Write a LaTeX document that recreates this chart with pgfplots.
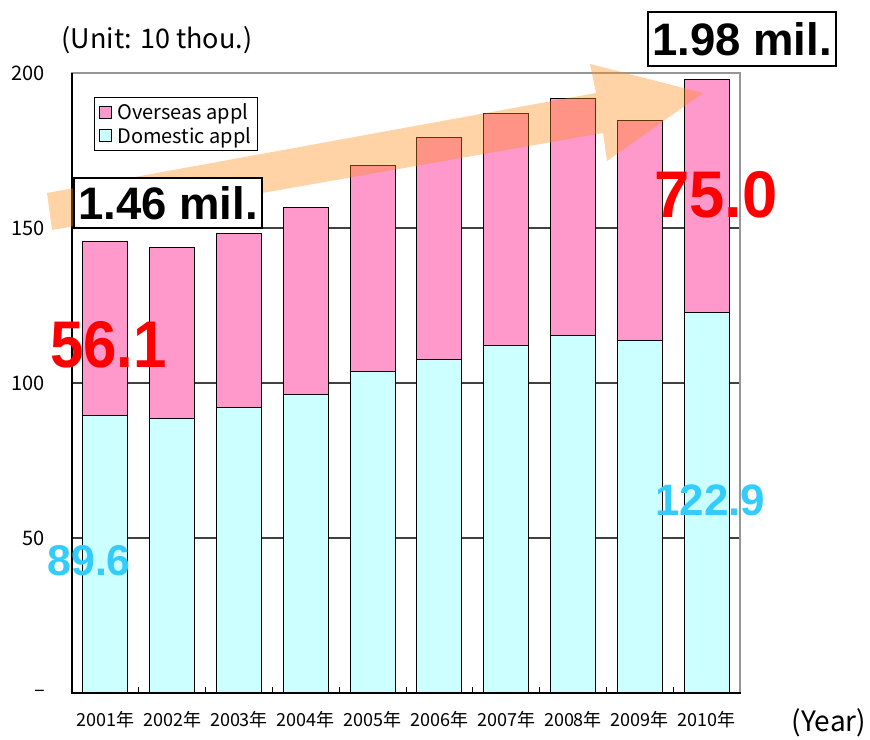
\documentclass[border=0pt]{standalone}
\usepackage{fontspec}
\setmainfont{Liberation Sans}
\newfontfamily\cjk{Noto Sans CJK JP}
\usepackage{graphicx}
\usepackage{pgfplots}
\pgfplotsset{compat=1.18}
\definecolor{pinkbar}{RGB}{255,153,204}
\definecolor{cyanbar}{RGB}{204,255,255}
\definecolor{gridc}{RGB}{64,64,64}
\definecolor{framec}{RGB}{150,150,150}
\definecolor{arrowc}{RGB}{255,140,20}
\definecolor{numblue}{RGB}{51,204,255}
\begin{document}
\begin{tikzpicture}[x=1pt,y=1pt]
\path[use as bounding box] (0,0) rectangle (870,739);
\begin{axis}[
  at={(72pt,46pt)}, anchor=south west,
  width=668pt, height=620pt, scale only axis,
  ybar stacked, bar width=45pt,
  xmin=-0.5, xmax=9.5, ymin=0, ymax=200,
  xtick={0,...,9},
  xticklabels={2001年,2002年,2003年,2004年,2005年,2006年,2007年,2008年,2009年,2010年},
  minor xtick={0.5,1.5,2.5,3.5,4.5,5.5,6.5,7.5,8.5},
  major x tick style={draw=none},
  minor x tick style={black, line width=1pt},
  minor tick length=6pt,
  xtick pos=left, ytick pos=left,
  tick align=inside,
  ytick={0,50,100,150,200}, yticklabels={–,50,100,150,200},
  ytick style={draw=none},
  ymajorgrids, grid style={gridc, line width=1.3pt},
  axis line style={framec, line width=1.2pt},
  /pgf/number format/assume math mode=true,
  yticklabel style={font=\cjk\fontsize{20}{20}\selectfont, anchor=east, inner sep=0pt, xshift=-27pt},
  xticklabel style={font=\cjk\fontsize{18}{18}\selectfont, anchor=north, inner sep=0pt, yshift=-18pt},
  reverse legend,
  legend style={at={(0.033,0.961)}, anchor=north west, draw=black, line width=1pt,
    font=\cjk\fontsize{20}{22}\selectfont, row sep=2pt, inner xsep=4pt, inner ysep=4pt,
    cells={anchor=west}},
  legend image code/.code={\draw[#1,draw=black,line width=0.8pt] (0pt,-6pt) rectangle (12pt,6pt);},
]
\addplot[fill=cyanbar, draw=black, line width=1pt] coordinates {
 (0,89.6) (1,88.5) (2,92.1) (3,96.3) (4,103.7) (5,107.6) (6,112.1) (7,115.3) (8,113.7) (9,122.9)};
\addlegendentry{\hspace{4pt}Domestic appl}
\addplot[fill=pinkbar, draw=black, line width=1pt] coordinates {
 (0,56.1) (1,55.3) (2,56.2) (3,60.4) (4,66.6) (5,71.7) (6,74.7) (7,76.6) (8,71.1) (9,75.0)};
\addlegendentry{\hspace{4pt}Overseas appl}
\end{axis}
% frame
\draw[framec, line width=1.2pt] (72,666) -- (740,666) -- (740,46);
\draw[black, line width=1.5pt] (72,666) -- (72,46);
\draw[black, line width=2pt] (71,46) -- (741,46);
% arrow
\fill[arrowc, opacity=0.38] (47,546) -- (596,646) -- (590,675) -- (703,646) -- (607,578) -- (603,606) -- (52,509) -- cycle;
% boxes
\node[draw=black, line width=1.6pt, fill=white, minimum width=188pt, minimum height=50pt, inner sep=0pt,
  font=\fontsize{45.5}{45.5}\selectfont\bfseries] at (168,536) {1.46 mil.};
\node[draw=black, line width=1.6pt, fill=white, minimum width=188pt, minimum height=54pt, inner sep=0pt,
  font=\fontsize{45.5}{45.5}\selectfont\bfseries] at (742,700) {1.98 mil.};
% numbers
\node[anchor=base west, inner sep=0pt, text=red, font=\fontsize{66}{66}\selectfont\bfseries] at (50,371) {\scalebox{0.91}[1]{56.1}};
\node[anchor=base west, inner sep=0pt, text=red, font=\fontsize{66}{66}\selectfont\bfseries] at (654,521) {\scalebox{0.96}[1]{75.0}};
\node[anchor=base west, inner sep=0pt, text=numblue, font=\fontsize{43}{43}\selectfont\bfseries] at (47,163) {89.6};
\node[anchor=base west, inner sep=0pt, text=numblue, font=\fontsize{44}{44}\selectfont\bfseries] at (655,223) {122.9};
% labels
\node[font=\cjk\fontsize{27}{27}\selectfont, inner sep=0pt] at (157,699) {(Unit: 10 thou.)};
\node[font=\cjk\fontsize{28}{28}\selectfont, inner sep=0pt] at (829,16) {(Year)};
\end{tikzpicture}
\end{document}
